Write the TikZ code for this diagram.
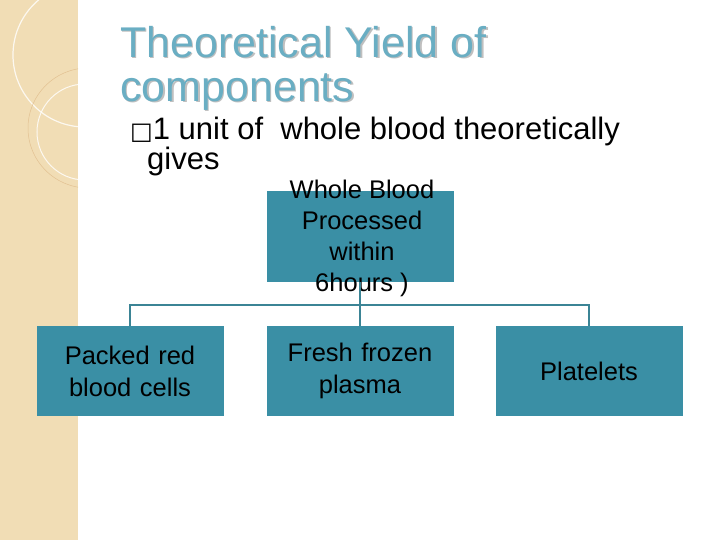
\documentclass[tikz,border=0pt]{standalone}
\usepackage{fontspec}
\setmainfont{Liberation Sans}
\newfontfamily\dejavu{DejaVu Sans}
\definecolor{boxteal}{HTML}{3A8FA5}
\definecolor{linteal}{HTML}{3B8495}
\definecolor{titleteal}{HTML}{6AAEC3}
\definecolor{beige}{HTML}{F1DDB5}
\begin{document}
\begin{tikzpicture}[x=1pt,y=-1pt,
  tbox/.style={fill=boxteal,minimum width=187pt,minimum height=90pt,inner sep=0pt,text width=185pt,align=center,font=\fontsize{25.5}{32}\selectfont},
  conn/.style={draw=linteal,line width=2.5pt}]
\useasboundingbox (0,0) rectangle (720,540);
\fill[white] (0,0) rectangle (720,540);
\fill[beige] (0,0) rectangle (78,540);
\begin{scope}
\clip (0,0) rectangle (78,540);
\draw[white,opacity=0.8,line width=1.2pt] (85,55) circle (72);
\draw[beige!70!brown,line width=0.5pt] (88,128) circle (60);
\draw[white,opacity=0.8,line width=1pt] (85,132) circle (48);
\end{scope}
\foreach \dx/\c in {1.5/gray!50,0/titleteal}{
\node[anchor=west,text=\c,font=\fontsize{43}{48}\selectfont,inner sep=0pt] at (120+\dx,42+\dx) {Theoretical Yield of};
\node[anchor=west,text=\c,font=\fontsize{43}{48}\selectfont,inner sep=0pt] at (120+\dx,92+\dx) {components};}
\node[anchor=west,inner sep=0pt,font=\fontsize{31}{34}\selectfont] (bul) at (130,131) {{\dejavu\fontsize{24}{28}\selectfont □}1 unit of\ \ whole blood theoretically};
\node[anchor=west,inner sep=0pt,font=\fontsize{31}{34}\selectfont] (gv) at (147,161) {gives};
\node[tbox,minimum height=91pt] (top) at (360,236.5) {};
\node[font=\fontsize{25.5}{31}\selectfont,align=center,inner sep=0pt] (toptxt) at (362,238) {Whole Blood\\ Processed\\ within\\ 6hours )};
\node[tbox] (prbc) at (130,371) {Packed red\\blood cells};
\node[tbox] (ffp) at (360,371) {Fresh frozen\\plasma};
\node[tbox] (plt) at (589,371) {Platelets};
\coordinate (j) at (360,305);
\draw[conn] (top.south) -- (ffp.north);
\draw[conn] (prbc.north) -- (prbc.north |- j) -- (plt.north |- j) -- (plt.north);
\end{tikzpicture}
\end{document}
